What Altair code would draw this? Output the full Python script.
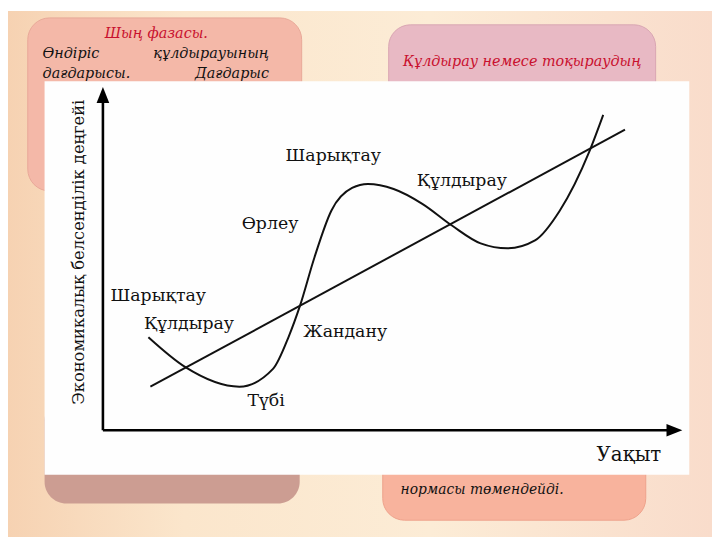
import altair as alt
import pandas as pd

# ---- data (in the picture's own coordinate system: x to the right, y downward) ----
curve_x = [150, 187, 242, 276, 292, 303, 318, 335, 356, 372, 398, 427, 457, 486, 513, 541, 566, 596, 610]
curve_y = [338, 368, 388, 370, 337, 307, 257, 210, 187, 183, 188, 203, 225, 243, 248, 240, 210, 150, 113]

trend_x = [152, 632]
trend_y = [388, 128]

phase_labels = ["Шарықтау", "Құлдырау", "Өрлеу", "Шарықтау", "Құлдырау", "Жандану", "Түбі"]
phase_x = [337, 467, 273, 160, 191, 349, 269]
phase_y = [155, 180, 223, 296, 325, 333, 403]

y_title = "Экономикалық белсенділік деңгейі"
x_title = "Уақыт"

FONT = "DejaVu Serif"
W, H = 712, 532
XS = alt.Scale(domain=[8, 720], nice=False, zero=False)
YS = alt.Scale(domain=[8, 540], nice=False, zero=False, reverse=True)


def X(f="x"):
    return alt.X(f"{f}:Q", scale=XS, axis=None)


def Y(f="y"):
    return alt.Y(f"{f}:Q", scale=YS, axis=None)


def rect_layer(df, color, radius=0, stroke=None):
    kw = dict(cornerRadius=radius, color=color)
    if stroke:
        kw.update(stroke=stroke, strokeWidth=1)
    return alt.Chart(df).mark_rect(**kw).encode(
        x=X("x"), x2="x2:Q", y=Y("y"), y2="y2:Q"
    )


bg = rect_layer(
    pd.DataFrame({"x": [8], "x2": [720], "y": [8], "y2": [540]}),
    alt.Gradient(
        gradient="linear",
        stops=[
            alt.GradientStop(color="#f6d2b2", offset=0),
            alt.GradientStop(color="#fbe6cc", offset=0.25),
            alt.GradientStop(color="#fcecd6", offset=0.6),
            alt.GradientStop(color="#f9dccb", offset=1),
        ],
        x1=0, x2=1, y1=0, y2=0,
    ),
)

box_lt = rect_layer(pd.DataFrame({"x": [28], "x2": [305], "y": [15], "y2": [190]}), "#f4b8a8", 22, "#e8a898")
box_rt = rect_layer(pd.DataFrame({"x": [393], "x2": [663], "y": [22], "y2": [200]}), "#e8b9c4", 22, "#d9a6b2")
box_lb = rect_layer(pd.DataFrame({"x": [45], "x2": [303], "y": [400], "y2": [506]}), "#cc9d92", 22)
box_rb = rect_layer(pd.DataFrame({"x": [387], "x2": [653], "y": [400], "y2": [523]}), "#f8b39d", 22, "#eea28c")


def text_layer(texts, xs, ys, size, color="#000000", style="normal", align="center", angle=0, font=FONT):
    df = pd.DataFrame({"t": texts, "x": xs, "y": ys})
    kw = dict(font=font, fontSize=size, color=color, fontStyle=style, align=align, baseline="middle")
    if angle:
        kw["angle"] = angle
    return alt.Chart(df).mark_text(**kw).encode(x=X("x"), y=Y("y"), text="t:N")


box_title_l = text_layer(["Шың фазасы."], [158], [31], 14.5, "#c8102e", "italic")
box_text_l1 = text_layer(["Өндіріс", "дағдарысы."], [43, 43], [52, 72], 14.5, "#111111", "italic", "left")
box_text_l2 = text_layer(["құлдырауының", "Дағдарыс"], [272, 272], [52, 72], 14.5, "#111111", "italic", "right")
box_title_r = text_layer(["Құлдырау немесе тоқыраудың"], [528], [60], 14.5, "#c8102e", "italic")
box_text_rb = text_layer(["нормасы төмендейді."], [405], [493], 14, "#111111", "italic", "left")

panel = rect_layer(pd.DataFrame({"x": [45], "x2": [697], "y": [79], "y2": [477]}), "#fefefe")

axes_df = pd.DataFrame({
    "x": [104, 104, 104, 682],
    "y": [94, 432, 432, 432],
    "g": ["y", "y", "x", "x"],
})
axes = alt.Chart(axes_df).mark_line(color="#000000", strokeWidth=2.6).encode(
    x=X("x"), y=Y("y"), detail="g:N", order=alt.Order("x:Q")
)
arrow_up = alt.Chart(pd.DataFrame({"x": [104], "y": [93]})).mark_point(
    shape="M0,-1L0.8,1L-0.8,1Z", size=256, filled=True, color="#000000", opacity=1
).encode(x=X("x"), y=Y("y"))
arrow_right = alt.Chart(pd.DataFrame({"x": [682], "y": [432]})).mark_point(
    shape="M1,0L-1,-0.8L-1,0.8Z", size=256, filled=True, color="#000000", opacity=1
).encode(x=X("x"), y=Y("y"))

trend = alt.Chart(pd.DataFrame({"x": trend_x, "y": trend_y})).mark_line(
    color="#111111", strokeWidth=2
).encode(x=X("x"), y=Y("y"), order="x:Q")

curve = alt.Chart(pd.DataFrame({"x": curve_x, "y": curve_y})).mark_line(
    color="#111111", strokeWidth=2, interpolate="monotone"
).encode(x=X("x"), y=Y("y"), order="x:Q")

labels = text_layer(phase_labels, phase_x, phase_y, 17.5, "#111111")
xlab = text_layer([x_title], [636], [457], 20, "#111111")
ylab = text_layer([y_title], [80], [252], 16.5, "#111111", angle=270)

chart = alt.layer(
    bg, box_lt, box_rt, box_lb, box_rb,
    box_title_l, box_text_l1, box_text_l2, box_title_r, box_text_rb,
    panel, axes, arrow_up, arrow_right, trend, curve, labels, xlab, ylab,
).properties(
    width=W, height=H, padding=0, autosize=alt.AutoSizeParams(type="none")
).configure_view(stroke=None)

chart.save("out.html", embed_options={"renderer": "svg", "actions": False})
